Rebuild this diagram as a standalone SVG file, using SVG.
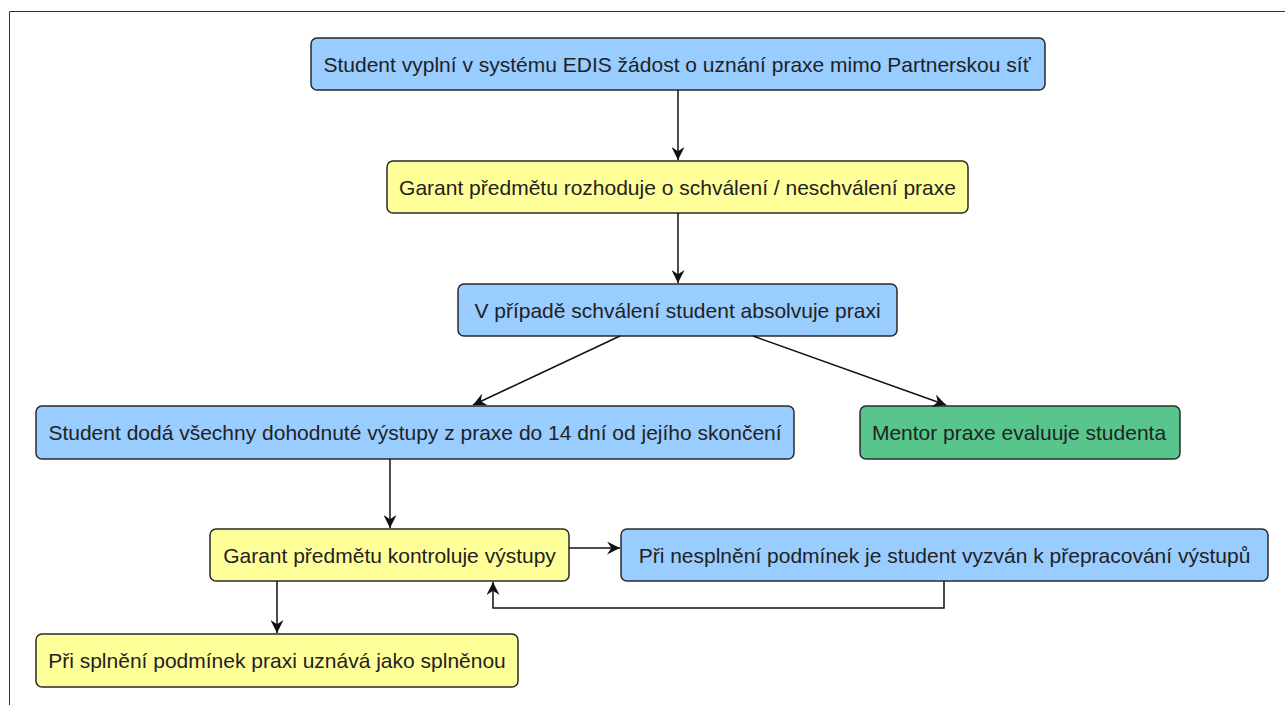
<svg xmlns="http://www.w3.org/2000/svg" width="1285" height="705" viewBox="0 0 1285 705">
<defs>
<style>
.n rect{stroke:#2a2a2a;stroke-width:1.5}
.b rect{fill:#99ccff}
.y rect{fill:#ffff99}
.g rect{fill:#58c68c}
.n text{font-family:"Liberation Sans",Arial,sans-serif;font-size:21px;fill:#222;text-anchor:middle}
#edges path{fill:none;stroke:#111;stroke-width:1.5}
</style>
<marker id="ah" viewBox="0 0 12 12" refX="12" refY="6" markerWidth="13" markerHeight="13" markerUnits="userSpaceOnUse" orient="auto">
<path d="M0,0 L12,6 L0,12 L4,6 Z" fill="#111"/>
</marker>
</defs>
<rect width="1285" height="705" fill="#fff"/>
<path d="M9.5,705 L9.5,11.5 L1285,11.5" fill="none" stroke="#333" stroke-width="1"/>
<g id="n1" class="n b"><rect x="311" y="38" width="734" height="52" rx="6"/><text x="677" y="72">Student vyplní v systému EDIS žádost o uznání praxe mimo Partnerskou síť</text></g>
<g id="n2" class="n y"><rect x="387" y="161" width="581" height="52" rx="6"/><text x="677.5" y="195">Garant předmětu rozhoduje o schválení / neschválení praxe</text></g>
<g id="n3" class="n b"><rect x="458" y="284" width="439" height="52" rx="6"/><text x="677.5" y="318">V případě schválení student absolvuje praxi</text></g>
<g id="n4" class="n b"><rect x="36" y="406" width="758" height="53" rx="6"/><text x="415" y="440">Student dodá všechny dohodnuté výstupy z praxe do 14 dní od jejího skončení</text></g>
<g id="n5" class="n g"><rect x="860" y="406" width="320" height="53" rx="6"/><text x="1019" y="440">Mentor praxe evaluuje studenta</text></g>
<g id="n6" class="n y"><rect x="210" y="529" width="359" height="52" rx="6"/><text x="389.5" y="563">Garant předmětu kontroluje výstupy</text></g>
<g id="n7" class="n b"><rect x="621" y="529" width="647" height="52" rx="6"/><text x="944.5" y="563">Při nesplnění podmínek je student vyzván k přepracování výstupů</text></g>
<g id="n8" class="n y"><rect x="36" y="634" width="482" height="53" rx="6"/><text x="277" y="668">Při splnění podmínek praxi uznává jako splněnou</text></g>
<g id="edges">
<path d="M678,90 L678,160" marker-end="url(#ah)"/>
<path d="M678,213 L678,283" marker-end="url(#ah)"/>
<path d="M620,336 L473,405" marker-end="url(#ah)"/>
<path d="M753,336 L946,405" marker-end="url(#ah)"/>
<path d="M390,459 L390,528" marker-end="url(#ah)"/>
<path d="M569,548 L620,548" marker-end="url(#ah)"/>
<path d="M944,581 L944,608 L493,608 L493,582" marker-end="url(#ah)"/>
<path d="M277,581 L277,633" marker-end="url(#ah)"/>
</g>
</svg>
